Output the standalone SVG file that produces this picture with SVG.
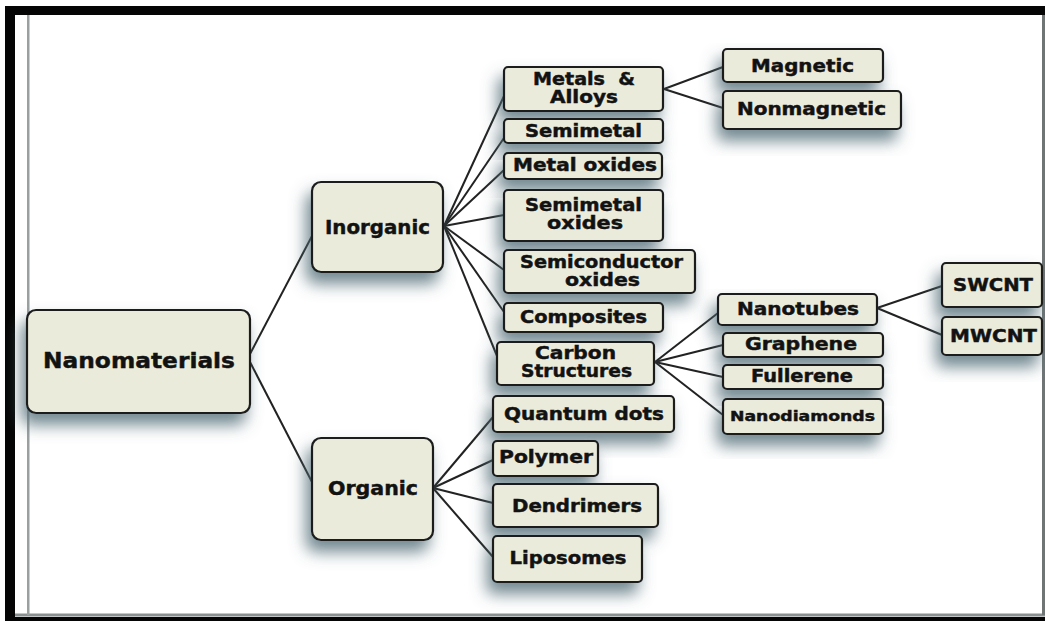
<svg xmlns="http://www.w3.org/2000/svg" width="1045" height="621" viewBox="0 0 1045 621">
<style>
.box{fill:#ebebdc;stroke:#1c1c1c;stroke-width:2.2;filter:url(#sh)}
.t{font-family:"DejaVu Sans","Liberation Sans",sans-serif;font-weight:bold;fill:#121212;stroke:#121212;stroke-width:0.45;text-anchor:middle}
.s17{font-size:17px}
.s20{font-size:20px}
.s22{font-size:22px}
.s14{font-size:14px}
#connectors line{stroke:#222;stroke-width:2;fill:none}
</style>
<defs>
<filter id="sh" x="-40%" y="-50%" width="180%" height="220%">
<feGaussianBlur in="SourceAlpha" stdDeviation="8" result="b"/>
<feOffset in="b" dx="-5" dy="11" result="o"/>
<feFlood flood-color="#4f6b75" flood-opacity="0.8"/>
<feComposite in2="o" operator="in" result="s"/>
<feMerge><feMergeNode in="s"/><feMergeNode in="SourceGraphic"/></feMerge>
</filter>
</defs>
<rect x="0" y="0" width="1045" height="621" fill="#ffffff"/>
<g id="frame">
<rect x="5" y="6" width="1040" height="9" fill="#050505"/>
<rect x="5" y="6" width="10" height="615" fill="#050505"/>
<rect x="5" y="617" width="1040" height="4" fill="#050505"/>
<rect x="15" y="613.5" width="1030" height="3" fill="#8a8f8f"/>
<rect x="27" y="15" width="2.5" height="600" fill="#9aa0a0"/>
<rect x="1042" y="15" width="3" height="600" fill="#6f7575"/>
</g>
<g id="connectors">
<line x1="250" y1="354" x2="312" y2="236"/>
<line x1="250" y1="362" x2="312" y2="482"/>
<line x1="444" y1="226" x2="504" y2="96"/>
<line x1="444" y1="226" x2="504" y2="138"/>
<line x1="444" y1="226" x2="504" y2="170"/>
<line x1="444" y1="226" x2="504" y2="215"/>
<line x1="444" y1="226" x2="504" y2="270"/>
<line x1="444" y1="226" x2="504" y2="312"/>
<line x1="444" y1="226" x2="497" y2="356"/>
<line x1="433" y1="488" x2="493" y2="417"/>
<line x1="433" y1="488" x2="493" y2="460"/>
<line x1="433" y1="488" x2="493" y2="503"/>
<line x1="433" y1="488" x2="493" y2="557"/>
<line x1="664" y1="89" x2="723" y2="67"/>
<line x1="664" y1="89" x2="723" y2="108"/>
<line x1="655" y1="362" x2="718" y2="313"/>
<line x1="655" y1="362" x2="723" y2="345"/>
<line x1="655" y1="362" x2="723" y2="377"/>
<line x1="655" y1="362" x2="723" y2="415"/>
<line x1="877" y1="308" x2="942" y2="286"/>
<line x1="877" y1="308" x2="942" y2="335"/>
</g>
<g id="n-nanomaterials"><rect class="box" x="27" y="310" width="223" height="103" rx="9"/><text class="t s22" x="139" y="368" textLength="192" lengthAdjust="spacingAndGlyphs">Nanomaterials</text></g>
<g id="n-inorganic"><rect class="box" x="312" y="182" width="131" height="90" rx="9"/><text class="t s20" x="377.5" y="234" textLength="105" lengthAdjust="spacingAndGlyphs">Inorganic</text></g>
<g id="n-organic"><rect class="box" x="312" y="438" width="121" height="102" rx="9"/><text class="t s20" x="373" y="495" textLength="90" lengthAdjust="spacingAndGlyphs">Organic</text></g>
<g id="n-metals"><rect class="box" x="504" y="67" width="159" height="44" rx="4"/><text class="t s17" x="584" y="85" textLength="102" lengthAdjust="spacingAndGlyphs" xml:space="preserve" style="white-space:pre">Metals  &amp;</text><text class="t s17" x="584" y="103" textLength="68" lengthAdjust="spacingAndGlyphs">Alloys</text></g>
<g id="n-semimetal"><rect class="box" x="504" y="119" width="159" height="24" rx="4"/><text class="t s17" x="583.5" y="137" textLength="117" lengthAdjust="spacingAndGlyphs">Semimetal</text></g>
<g id="n-metaloxides"><rect class="box" x="504" y="153" width="158" height="26" rx="4"/><text class="t s17" x="585" y="171" textLength="144" lengthAdjust="spacingAndGlyphs">Metal oxides</text></g>
<g id="n-semimetaloxides"><rect class="box" x="504" y="190" width="159" height="51" rx="4"/><text class="t s17" x="583.5" y="211" textLength="117" lengthAdjust="spacingAndGlyphs">Semimetal</text><text class="t s17" x="585" y="229" textLength="76" lengthAdjust="spacingAndGlyphs">oxides</text></g>
<g id="n-semiconductor"><rect class="box" x="504" y="250" width="191" height="43" rx="4"/><text class="t s17" x="601.5" y="268" textLength="163" lengthAdjust="spacingAndGlyphs">Semiconductor</text><text class="t s17" x="602.5" y="286" textLength="75" lengthAdjust="spacingAndGlyphs">oxides</text></g>
<g id="n-composites"><rect class="box" x="504" y="303" width="159" height="29" rx="4"/><text class="t s17" x="583.5" y="323" textLength="127" lengthAdjust="spacingAndGlyphs">Composites</text></g>
<g id="n-carbon"><rect class="box" x="497" y="342" width="157" height="43" rx="4"/><text class="t s17" x="575.5" y="359" textLength="81" lengthAdjust="spacingAndGlyphs">Carbon</text><text class="t s17" x="576.5" y="377" textLength="111" lengthAdjust="spacingAndGlyphs">Structures</text></g>
<g id="n-quantum"><rect class="box" x="493" y="396" width="181" height="36" rx="4"/><text class="t s17" x="584" y="420" textLength="160" lengthAdjust="spacingAndGlyphs">Quantum dots</text></g>
<g id="n-polymer"><rect class="box" x="493" y="441" width="105" height="35" rx="4"/><text class="t s17" x="546" y="463" textLength="94" lengthAdjust="spacingAndGlyphs">Polymer</text></g>
<g id="n-dendrimers"><rect class="box" x="493" y="484" width="165" height="43" rx="4"/><text class="t s17" x="577" y="512" textLength="130" lengthAdjust="spacingAndGlyphs">Dendrimers</text></g>
<g id="n-liposomes"><rect class="box" x="493" y="536" width="149" height="46" rx="4"/><text class="t s17" x="568" y="564" textLength="117" lengthAdjust="spacingAndGlyphs">Liposomes</text></g>
<g id="n-magnetic"><rect class="box" x="723" y="49" width="160" height="33" rx="4"/><text class="t s17" x="802.5" y="72" textLength="103" lengthAdjust="spacingAndGlyphs">Magnetic</text></g>
<g id="n-nonmagnetic"><rect class="box" x="723" y="91" width="178" height="38" rx="4"/><text class="t s17" x="811.5" y="115" textLength="149" lengthAdjust="spacingAndGlyphs">Nonmagnetic</text></g>
<g id="n-nanotubes"><rect class="box" x="718" y="294" width="159" height="31" rx="4"/><text class="t s17" x="798" y="315" textLength="122" lengthAdjust="spacingAndGlyphs">Nanotubes</text></g>
<g id="n-graphene"><rect class="box" x="723" y="333" width="160" height="24" rx="4"/><text class="t s17" x="801" y="350" textLength="112" lengthAdjust="spacingAndGlyphs">Graphene</text></g>
<g id="n-fullerene"><rect class="box" x="723" y="365" width="160" height="24" rx="4"/><text class="t s17" x="802" y="382" textLength="102" lengthAdjust="spacingAndGlyphs">Fullerene</text></g>
<g id="n-nanodiamonds"><rect class="box" x="723" y="399" width="160" height="35" rx="4"/><text class="t s14" x="802.5" y="421" textLength="145" lengthAdjust="spacingAndGlyphs">Nanodiamonds</text></g>
<g id="n-swcnt"><rect class="box" x="942" y="263" width="100" height="44" rx="4"/><text class="t s17" x="993" y="291" textLength="80" lengthAdjust="spacingAndGlyphs">SWCNT</text></g>
<g id="n-mwcnt"><rect class="box" x="942" y="317" width="100" height="38" rx="4"/><text class="t s17" x="993.5" y="342" textLength="87" lengthAdjust="spacingAndGlyphs">MWCNT</text></g>
</svg>
